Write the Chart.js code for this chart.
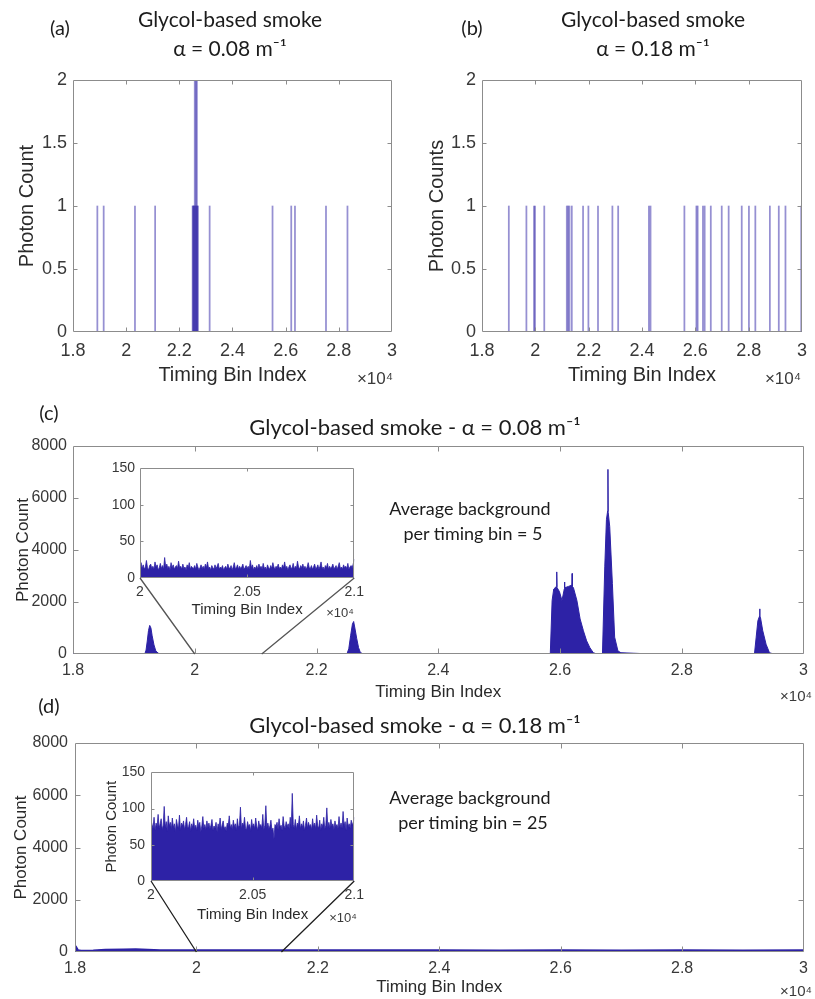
<!DOCTYPE html>
<html><head><meta charset="utf-8">
<script src="https://cdn.jsdelivr.net/npm/chart.js@4.4.1/dist/chart.umd.min.js"></script>
<style>
html,body{margin:0;padding:0;background:#fff;}
#fig{position:relative;width:815px;height:999px;overflow:hidden;background:#fff;}
canvas{position:absolute;}
.t{position:absolute;transform:translate(-50%,-50%);white-space:nowrap;font-family:Lato,'Open Sans',sans-serif;color:#1c1c1c;line-height:1;z-index:10;}
.m{font-family:'Liberation Sans',Arial,sans-serif;color:#3a3a3a;}
</style></head><body>
<div id="fig">
<canvas id="ca" width="405" height="390" style="left:0;top:0"></canvas>
<canvas id="cb" width="405" height="390" style="left:410px;top:0"></canvas>
<canvas id="cc" width="815" height="315" style="left:0;top:395px"></canvas>
<canvas id="cd" width="815" height="294" style="left:0;top:705px"></canvas>
<canvas id="ic" width="280" height="170" style="left:90px;top:455px;z-index:5"></canvas>
<canvas id="id" width="280" height="170" style="left:90px;top:758px;z-index:5"></canvas>

<div class="t" style="left:60px;top:27px;font-size:20px">(a)</div>
<div class="t" style="left:230px;top:18px;font-size:21px">Glycol-based smoke</div>
<div class="t" style="left:230px;top:47px;font-size:21px">α = 0.08 m⁻¹</div>
<div class="t" style="left:472px;top:27px;font-size:20px">(b)</div>
<div class="t" style="left:653px;top:18px;font-size:21px">Glycol-based smoke</div>
<div class="t" style="left:653px;top:47px;font-size:21px">α = 0.18 m⁻¹</div>
<div class="t m" style="left:375px;top:378px;font-size:17px">×10⁴</div>
<div class="t m" style="left:783px;top:378px;font-size:17px">×10⁴</div>

<div class="t" style="left:49px;top:412px;font-size:20px">(c)</div>
<div class="t" style="left:415px;top:427px;font-size:22px">Glycol-based smoke - α = 0.08 m⁻¹</div>
<div class="t" style="left:470px;top:508px;font-size:18px">Average background</div>
<div class="t" style="left:473px;top:533px;font-size:18px">per timing bin = 5</div>
<div class="t m" style="left:796px;top:695px;font-size:15px">×10⁴</div>
<div class="t m" style="left:340px;top:612px;font-size:13px">×10⁴</div>

<div class="t" style="left:49px;top:705px;font-size:20px">(d)</div>
<div class="t" style="left:415px;top:725px;font-size:22px">Glycol-based smoke - α = 0.18 m⁻¹</div>
<div class="t" style="left:470px;top:797px;font-size:18px">Average background</div>
<div class="t" style="left:473px;top:822px;font-size:18px">per timing bin = 25</div>
<div class="t m" style="left:796px;top:990px;font-size:15px">×10⁴</div>
<div class="t m" style="left:343px;top:917px;font-size:13px">×10⁴</div>
</div>
<script>
// ---------------- data ----------------
// shared axis ticks
const mainXTicks = [18000, 20000, 22000, 24000, 26000, 28000, 30000];
const mainXLabels = ['1.8', '2', '2.2', '2.4', '2.6', '2.8', '3'];
const abYTicks = [0, 0.5, 1, 1.5, 2];
const abYLabels = ['0', '0.5', '1', '1.5', '2'];
const cdYTicks = [0, 2000, 4000, 6000, 8000];
const cdYLabels = ['0', '2000', '4000', '6000', '8000'];
const insetXTicks = [20000, 20500, 21000];
const insetXLabels = ['2', '2.05', '2.1'];
const insetYTicks = [0, 50, 100, 150];
const insetYLabels = ['0', '50', '100', '150'];

// (a) single-shot histogram, alpha = 0.08
const aBins = [18916, 19154, 20331, 21090, 22500, 22520, 22540, 22560, 22580, 22600, 22620, 22640, 22660, 22680, 22695, 23140, 25506, 26210, 26350, 27517, 28325];
const aCounts = [1, 1, 1, 1, 1, 1, 1, 1, 2, 1, 2, 1, 2, 1, 1, 1, 1, 1, 1, 1, 1];

// (b) single-shot histogram, alpha = 0.18
const bBins = [19006, 19665, 19950, 19988, 20335, 21180, 21230, 21280, 21367, 21790, 21990, 22350, 22890, 23106, 24260, 24320, 25590, 26040, 26087, 26286, 26350, 26580, 26990, 27250, 27740, 28010, 28250, 28795, 29130, 29380, 29975, 29990];
const bCounts = [1, 1, 1, 1, 1, 1, 1, 1, 1, 1, 1, 1, 1, 1, 1, 1, 1, 1, 1, 1, 1, 1, 1, 1, 1, 1, 1, 1, 1, 1, 1, 1];

// (c) accumulated histogram, alpha = 0.08
const cBins = [18000, 19180, 19200, 19220, 19240, 19260, 19280, 19300, 19330, 19360, 19400, 19450,
  22500, 22530, 22560, 22590, 22610, 22630, 22660, 22690, 22720, 22760,
  25840, 25870, 25897, 25940, 25946, 25952, 25990, 26032, 26070, 26074, 26078, 26110, 26140, 26195, 26199, 26203, 26220, 26277, 26330, 26384, 26437, 26490, 26546, 26600,
  26697, 26735, 26762, 26782, 26787, 26791, 26816, 26860, 26897, 26951, 27000, 27100, 27200, 27303, 27400,
  29194, 29222, 29250, 29276, 29280, 29284, 29292, 29330, 29384, 29440, 29500, 30000];
const cCounts = [5, 5, 150, 500, 900, 1100, 1000, 700, 350, 120, 30, 5,
  5, 200, 700, 1150, 1250, 1000, 600, 250, 60, 10,
  5, 2058, 2500, 2600, 3157, 2550, 2400, 2058, 2500, 2769, 2550, 2575, 2600, 2650, 3095, 2600, 2550, 2058, 1347, 893, 505, 245, 50, 5,
  5, 3351, 5165, 5500, 7100, 5450, 4905, 2707, 648, 117, 50, 40, 30, 20, 5,
  5, 648, 1282, 1450, 1735, 1420, 1410, 893, 377, 50, 5, 5];
const cZoom = [20000, 21100];

// (d) accumulated histogram, alpha = 0.18
const dBins = [18000, 18020, 18050, 18100, 18300, 18500, 18800, 19000, 19200, 19400, 19700, 20000, 20500, 21000, 22000, 23000, 24000, 25000, 26000, 27000, 28000, 29000, 30000];
const dCounts = [260, 200, 80, 60, 70, 95, 110, 115, 100, 80, 75, 75, 78, 75, 72, 74, 72, 70, 73, 71, 72, 70, 72];
const dZoom = [20000, 21400];

// insets: bins 20000..21000, width 5
const insetBinStart = 20000, insetBinWidth = 5;
const insetCCounts = [16,21,13,18,12,15,24,14,11,17,19,13,16,12,22,15,18,11,14,20,
  13,17,12,28,15,19,13,16,11,21,14,18,12,15,17,13,23,14,16,12,
  19,13,15,11,18,14,21,12,16,14,13,17,12,20,15,11,14,18,13,16,
  12,19,14,22,13,15,11,17,14,12,18,13,16,20,12,15,13,17,11,14,
  16,12,19,14,13,17,11,15,21,13,14,18,12,16,13,15,19,12,14,17,
  13,16,12,24,14,18,11,15,13,17,12,19,14,16,12,20,13,15,11,18,
  14,12,17,13,21,15,12,16,14,19,13,15,12,18,14,22,13,16,11,15,
  18,13,14,20,12,16,13,23,15,12,17,14,19,13,16,12,15,21,14,13,
  17,12,15,19,13,14,18,12,16,22,13,15,11,17,14,20,12,16,13,15,
  19,13,14,17,12,16,21,13,15,12,18,14,16,13,20,12,15,17,14,19,26];
const insetDCounts = [84,78,72,88,70,80,75,92,73,79,86,71,77,103,74,82,69,90,76,81,
  72,87,74,79,68,85,77,73,91,70,80,76,83,71,78,88,73,75,82,69,
  79,74,86,72,77,70,84,75,81,68,76,89,73,78,71,83,74,80,72,77,
  85,70,76,73,81,68,79,74,87,71,77,83,72,75,69,80,76,90,73,78,
  71,84,75,79,70,86,74,77,102,72,80,76,88,73,71,82,75,78,69,85,
  74,79,72,87,76,70,83,75,78,73,92,71,77,104,74,80,72,76,84,70,
  73,58,78,75,81,71,86,74,77,70,89,76,73,82,75,79,72,88,74,121,
  78,73,85,71,80,76,90,72,79,74,83,70,77,87,73,81,75,78,71,86,
  74,80,72,91,76,73,84,70,79,75,88,72,77,101,74,81,73,85,76,79,
  71,83,75,78,72,89,74,80,73,96,76,82,70,87,75,79,73,84,77,81,88];

// ---------------- styling / helpers ----------------
const FONT = "'Liberation Sans', Arial, Helvetica, sans-serif";
const TICK_COLOR = '#383838';
const TITLE_COLOR = '#2a2a2a';
const BOX_COLOR = '#8c8c8c';
const BLUE = '#2d22a6';
const BAR_COLOR = 'rgba(45,34,166,0.5)';

const charts = {};
const connectors = {
  cc: { inset: 'ic', range: cZoom, color: '#555555' },
  cd: { inset: 'id', range: dZoom, color: '#1e1e1e' }
};

const boxPlugin = {
  id: 'matlabBox',
  beforeDraw(chart, args, opts) {
    if (opts.bg) {
      const a = chart.chartArea, ctx = chart.ctx;
      ctx.save(); ctx.fillStyle = opts.bg;
      ctx.fillRect(a.left, a.top, a.right - a.left, a.bottom - a.top);
      ctx.restore();
    }
  },
  afterDatasetsDraw(chart, args, opts) {
    const ctx = chart.ctx, a = chart.chartArea, x = chart.scales.x, y = chart.scales.y;
    const L = opts.tickLen || 4;
    ctx.save();
    ctx.strokeStyle = BOX_COLOR; ctx.lineWidth = 1;
    const l = Math.round(a.left) + 0.5, r = Math.round(a.right) - 0.5, t = Math.round(a.top) + 0.5, b = Math.round(a.bottom) - 0.5;
    ctx.beginPath();
    ctx.rect(l, t, r - l, b - t);
    x.ticks.forEach(tk => {
      const p = Math.round(x.getPixelForValue(tk.value)) + 0.5;
      if (p <= l + 1 || p >= r - 1) return;
      ctx.moveTo(p, b); ctx.lineTo(p, b - L); ctx.moveTo(p, t); ctx.lineTo(p, t + L);
    });
    y.ticks.forEach(tk => {
      const p = Math.round(y.getPixelForValue(tk.value)) + 0.5;
      if (p <= t + 1 || p >= b - 1) return;
      ctx.moveTo(l, p); ctx.lineTo(l + L, p); ctx.moveTo(r, p); ctx.lineTo(r - L, p);
    });
    ctx.stroke();
    const con = connectors[chart.canvas.id];
    if (con && charts[con.inset]) {
      const inset = charts[con.inset];
      const mr = chart.canvas.getBoundingClientRect(), ir = inset.canvas.getBoundingClientRect();
      const ox = ir.left - mr.left, oy = ir.top - mr.top, ia = inset.chartArea;
      const y0 = y.getPixelForValue(0);
      ctx.strokeStyle = con.color; ctx.lineWidth = 1.3;
      ctx.beginPath();
      ctx.moveTo(ox + ia.left, oy + ia.bottom); ctx.lineTo(x.getPixelForValue(con.range[0]), y0);
      ctx.moveTo(ox + ia.right, oy + ia.bottom); ctx.lineTo(x.getPixelForValue(con.range[1]), y0);
      ctx.stroke();
    }
    ctx.restore();
  }
};
Chart.register(boxPlugin);

function axis(o, isX) {
  const s = {
    type: 'linear', min: o.min, max: o.max, offset: false,
    grid: { display: false, drawTicks: false }, border: { display: false },
    afterBuildTicks: sc => { sc.ticks = o.ticks.map(v => ({ value: v })); },
    ticks: {
      autoSkip: false, maxRotation: 0, minRotation: 0, padding: o.tickPad, color: TICK_COLOR,
      font: { family: FONT, size: o.tickSize },
      callback: (v, i) => o.labels[i]
    },
    title: {
      display: !!o.title, text: o.title || '', color: TITLE_COLOR,
      font: { family: FONT, size: o.titleSize },
      padding: isX ? { top: 0, bottom: o.titlePad } : { top: o.titlePad, bottom: 0 }
    }
  };
  if (isX) s.afterFit = sc => { sc.height = o.size; };
  else s.afterFit = sc => { sc.width = o.size; };
  return s;
}

function makeChart(id, cfg) {
  const el = document.getElementById(id);
  charts[id] = new Chart(el, {
    type: cfg.type,
    data: { datasets: cfg.datasets },
    options: {
      responsive: false, animation: false, events: [],
      layout: { padding: cfg.padding },
      plugins: { legend: { display: false }, tooltip: { enabled: false }, matlabBox: { tickLen: cfg.tickLen, bg: cfg.bg || null } },
      scales: { x: axis(cfg.x, true), y: axis(cfg.y, false) }
    }
  });
  return charts[id];
}

function pairs(xs, ys) { return xs.map((x, i) => ({ x: x, y: ys[i] })); }
function insetPairs(ys) { return ys.map((v, i) => ({ x: insetBinStart + i * insetBinWidth, y: v })); }

function barSet(xs, ys) {
  return [{ data: pairs(xs, ys), backgroundColor: BAR_COLOR, borderWidth: 0, barThickness: 1.1, grouped: false }];
}
function areaSet(data, bw) {
  return [{ data: data, borderColor: BLUE, backgroundColor: BLUE, borderWidth: bw, pointRadius: 0, fill: 'origin', tension: 0 }];
}

// ---------------- charts ----------------
const abX = () => ({ min: 18000, max: 30000, ticks: mainXTicks, labels: mainXLabels, tickPad: 8, tickSize: 18, title: 'Timing Bin Index', titleSize: 20, titlePad: 3, size: 58 });
const abY = t => ({ min: 0, max: 2, ticks: abYTicks, labels: abYLabels, tickPad: 6, tickSize: 18, title: t, titleSize: 20, titlePad: 15, size: 73 });

makeChart('ca', { type: 'bar', datasets: barSet(aBins, aCounts), padding: { left: 0, right: 10, top: 80, bottom: 0 }, tickLen: 4,
  x: abX(), y: abY('Photon Count') });
makeChart('cb', { type: 'bar', datasets: barSet(bBins, bCounts), padding: { left: 0, right: 11, top: 80, bottom: 0 }, tickLen: 4,
  x: abX(), y: Object.assign(abY('Photon Counts'), { size: 72 }) });

makeChart('ic', { type: 'line', datasets: areaSet(insetPairs(insetCCounts), 0.8), padding: { left: 0, right: 11, top: 11, bottom: 0 }, tickLen: 3, bg: '#ffffff',
  x: { min: 20000, max: 21000, ticks: insetXTicks, labels: insetXLabels, tickPad: 6, tickSize: 14, title: 'Timing Bin Index', titleSize: 15, titlePad: 6, size: 47 },
  y: { min: 0, max: 150, ticks: insetYTicks, labels: insetYLabels, tickPad: 5, tickSize: 14, title: '', titleSize: 15, titlePad: 0, size: 50 } });
makeChart('id', { type: 'line', datasets: areaSet(insetPairs(insetDCounts), 0.8), padding: { left: 0, right: 8, top: 11, bottom: 0 }, tickLen: 3, bg: '#ffffff',
  x: { min: 20000, max: 21000, ticks: insetXTicks, labels: insetXLabels, tickPad: 6, tickSize: 14, title: 'Timing Bin Index', titleSize: 15, titlePad: 4, size: 47 },
  y: { min: 0, max: 150, ticks: insetYTicks, labels: insetYLabels, tickPad: 6, tickSize: 14, title: 'Photon Count', titleSize: 15, titlePad: 13, size: 61 } });

makeChart('cc', { type: 'line', datasets: areaSet(pairs(cBins, cCounts), 1), padding: { left: 0, right: 3, top: 51, bottom: 0 }, tickLen: 5,
  x: { min: 18000, max: 30000, ticks: mainXTicks, labels: mainXLabels, tickPad: 7, tickSize: 16, title: 'Timing Bin Index', titleSize: 17, titlePad: 7, size: 56 },
  y: { min: 0, max: 8000, ticks: cdYTicks, labels: cdYLabels, tickPad: 6, tickSize: 16, title: 'Photon Count', titleSize: 17, titlePad: 13, size: 73 } });
makeChart('cd', { type: 'line', datasets: areaSet(pairs(dBins, dCounts), 1.5), padding: { left: 0, right: 4, top: 38, bottom: 0 }, tickLen: 5,
  x: { min: 18000, max: 30000, ticks: mainXTicks, labels: mainXLabels, tickPad: 7, tickSize: 16, title: 'Timing Bin Index', titleSize: 17, titlePad: 1, size: 47 },
  y: { min: 0, max: 8000, ticks: cdYTicks, labels: cdYLabels, tickPad: 7, tickSize: 16, title: 'Photon Count', titleSize: 17, titlePad: 11, size: 75 } });
</script>
</body></html>
